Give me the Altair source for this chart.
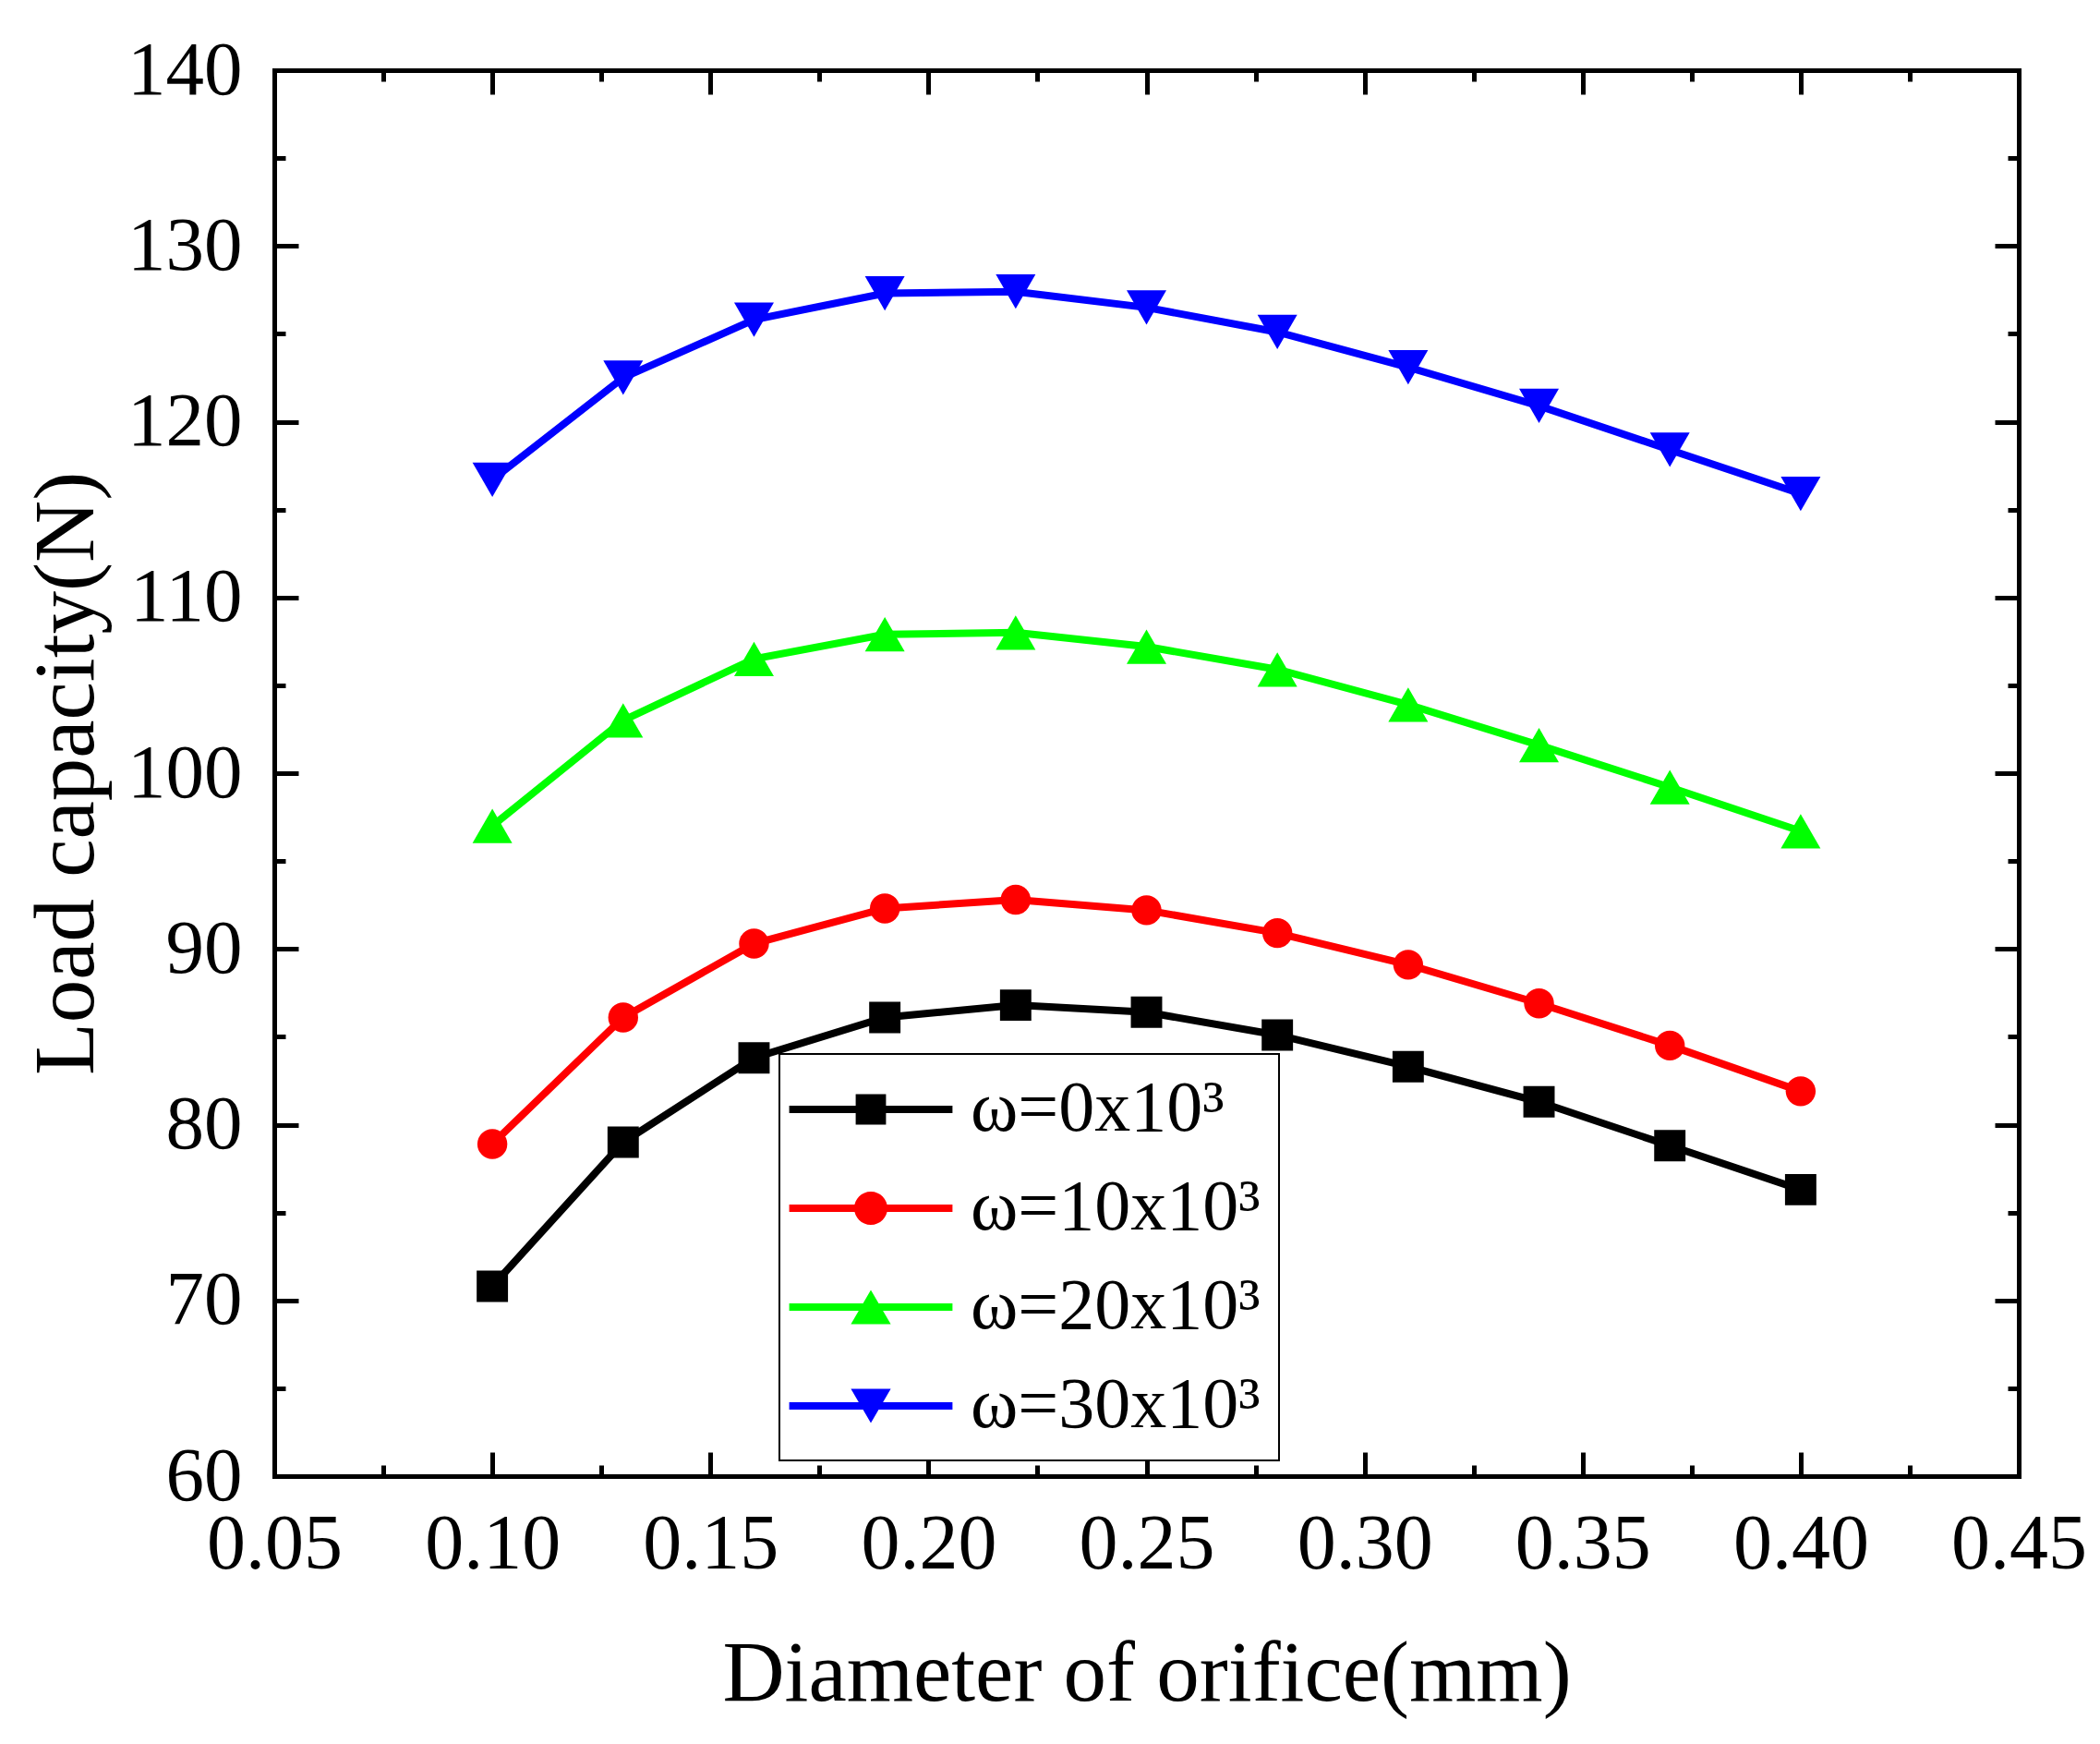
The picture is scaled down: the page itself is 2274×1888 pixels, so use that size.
import altair as alt
import pandas as pd

# ---- data -------------------------------------------------------------
x_vals = [0.10, 0.13, 0.16, 0.19, 0.22, 0.25, 0.28, 0.31, 0.34, 0.37, 0.40]
y_w0 = [70.8, 79.0, 83.8, 86.1, 86.8, 86.4, 85.1, 83.3, 81.3, 78.8, 76.3]
y_w10 = [78.9, 86.1, 90.3, 92.3, 92.8, 92.2, 90.9, 89.1, 86.9, 84.5, 81.9]
y_w20 = [97.0, 103.0, 106.5, 107.9, 108.0, 107.2, 105.9, 103.9, 101.6, 99.2, 96.7]
y_w30 = [116.7, 122.5, 125.8, 127.3, 127.4, 126.5, 125.1, 123.1, 120.9, 118.4, 115.9]
series = ["ω=0x10³", "ω=10x10³", "ω=20x10³", "ω=30x10³"]
colors = ["#000000", "#ff0000", "#00ff00", "#0000ff"]
x_label_ticks = [0.05, 0.10, 0.15, 0.20, 0.25, 0.30, 0.35, 0.40, 0.45]
x_all_ticks = [0.05, 0.075, 0.10, 0.125, 0.15, 0.175, 0.20, 0.225, 0.25, 0.275,
               0.30, 0.325, 0.35, 0.375, 0.40, 0.425, 0.45]
y_label_ticks = [60, 70, 80, 90, 100, 110, 120, 130, 140]
y_all_ticks = [60, 65, 70, 75, 80, 85, 90, 95, 100, 105, 110, 115, 120, 125,
               130, 135, 140]

ys = [y_w0, y_w10, y_w20, y_w30]
rows = []
for s, yv in zip(series, ys):
    for xv, v in zip(x_vals, yv):
        rows.append({"x": xv, "y": v, "series": s})
df = pd.DataFrame(rows)
xt_df = pd.DataFrame({"v": x_all_ticks})
yt_df = pd.DataFrame({"v": y_all_ticks})

# ---- styling -----------------------------------------------------------
W, H = 1889, 1522
FONT = "Liberation Serif"
AXW = 5
xscale = alt.Scale(domain=[0.05, 0.45], nice=False, zero=False)
yscale = alt.Scale(domain=[60, 140], nice=False, zero=False)
cscale = alt.Scale(domain=series, range=colors)

# legend symbols: line + marker (unit = sqrt(symbolSize)/2)
line_part = "M-2.21,-0.1H2.21V0.1H-2.21Z"
leg_shapes = [
    line_part + "M-0.41,-0.41H0.41V0.41H-0.41Z",
    line_part + "M-0.45,0A0.45,0.45 0 1,1 0.45,0A0.45,0.45 0 1,1 -0.45,0Z",
    line_part + "M0,-0.465L0.54,0.465L-0.54,0.465Z",
    line_part + "M0,0.465L-0.54,-0.465L0.54,-0.465Z",
]
point_shapes = ["square", "circle", "triangle-up", "triangle-down"]
point_sizes = [1150, 1050, 1850, 1850]

x_major = "abs(datum.value*20 - round(datum.value*20)) < 0.01"
y_major = "datum.value % 10 == 0"

leg_common = dict(
    title=None, orient="none", legendX=547, legendY=1065, direction="vertical",
    labelFont=FONT, labelFontSize=78, labelColor="black", labelLimit=1000,
    symbolSize=6400, symbolOffset=39, labelOffset=68, padding=20, rowPadding=28,
    strokeColor="black", fillColor="white", symbolStrokeWidth=0,
)
# legend-only layer (first, so its legend settings win the merge)
legend_layer = alt.Chart(df).transform_filter("false").mark_point(
    filled=True, opacity=1, strokeWidth=0
).encode(
    x=alt.X("x:Q", scale=xscale, axis=None),
    y=alt.Y("y:Q", scale=yscale, axis=None),
    color=alt.Color("series:N", scale=cscale, legend=alt.Legend(**leg_common)),
    shape=alt.Shape("series:N", scale=alt.Scale(domain=series, range=leg_shapes),
                    legend=alt.Legend(**leg_common)),
)

# main lines with label axes
lines = alt.Chart(df).mark_line(strokeWidth=8).encode(
    x=alt.X("x:Q", scale=xscale, axis=alt.Axis(
        orient="bottom", values=x_label_ticks, format=".2f", ticks=False, tickSize=0,
        grid=False, domain=True, domainColor="black", domainWidth=AXW, domainCap="square",
        labelFont=FONT, labelFontSize=84, labelColor="black", labelPadding=99,
        labelBaseline="alphabetic", labelFlush=False, labelOverlap=False, labelBound=False,
        title="Diameter of orifice(mm)", titleFont=FONT, titleFontSize=93,
        titleFontWeight="normal", titleColor="black", titleX=W / 2, titleY=242,
        titleBaseline="alphabetic", titleAlign="center", titleAnchor="middle")),
    y=alt.Y("y:Q", scale=yscale, axis=alt.Axis(
        orient="left", values=y_label_ticks, ticks=False, tickSize=0,
        grid=False, domain=True, domainColor="black", domainWidth=AXW, domainCap="square",
        labelFont=FONT, labelFontSize=83, labelColor="black", labelPadding=35,
        labelFlush=False, labelOverlap=False, labelBound=False,
        title="Load capacity(N)", titleFont=FONT, titleFontSize=93,
        titleFontWeight="normal", titleColor="black", titleX=-197, titleY=H / 2,
        titleAngle=-90, titleBaseline="alphabetic", titleAlign="center",
        titleAnchor="middle")),
    color=alt.Color("series:N", scale=cscale, legend=None),
    detail="series:N",
)

layers = [legend_layer, lines]
for s, shp, sz in zip(series, point_shapes, point_sizes):
    layers.append(
        alt.Chart(df).transform_filter(alt.datum.series == s).mark_point(
            shape=shp, size=sz, filled=True, opacity=1, strokeWidth=0
        ).encode(
            x=alt.X("x:Q", scale=xscale, axis=None),
            y=alt.Y("y:Q", scale=yscale, axis=None),
            color=alt.Color("series:N", scale=cscale, legend=None),
        )
    )


def tick_axis(orient, offset, cond, domain, values):
    return alt.Axis(
        orient=orient, offset=offset, values=values, labels=False, title=None, grid=False,
        domain=domain, domainColor="black", domainWidth=AXW, domainCap="square",
        ticks=True, tickColor="black", tickWidth=AXW,
        tickSize={"condition": {"test": cond, "value": 26}, "value": 12},
    )


# inward ticks on bottom (top-oriented axis moved down) and top
for orient, off, dom in [("top", -H, False), ("bottom", -H, True)]:
    ax = tick_axis(orient, off, x_major, dom, x_all_ticks)
    layers.append(
        alt.Chart(xt_df).mark_point(opacity=0).encode(
            x=alt.X("v:Q", scale=xscale, axis=ax)
        )
    )
# inward ticks on left (right-oriented axis moved left) and right
for orient, off, dom in [("right", -W, False), ("left", -W, True)]:
    ax = tick_axis(orient, off, y_major, dom, y_all_ticks)
    layers.append(
        alt.Chart(yt_df).mark_point(opacity=0).encode(
            y=alt.Y("v:Q", scale=yscale, axis=ax)
        )
    )

chart = alt.layer(*layers).resolve_axis(
    x="independent", y="independent"
).properties(
    width=W, height=H,
    autosize=alt.AutoSizeParams(type="none"),
    padding={"left": 289, "top": 68, "right": 80, "bottom": 280},
    background="white",
).configure_view(stroke=None).configure_legend(strokeWidth=2)

chart.save("out.html", embed_options={"renderer": "svg", "actions": False})
